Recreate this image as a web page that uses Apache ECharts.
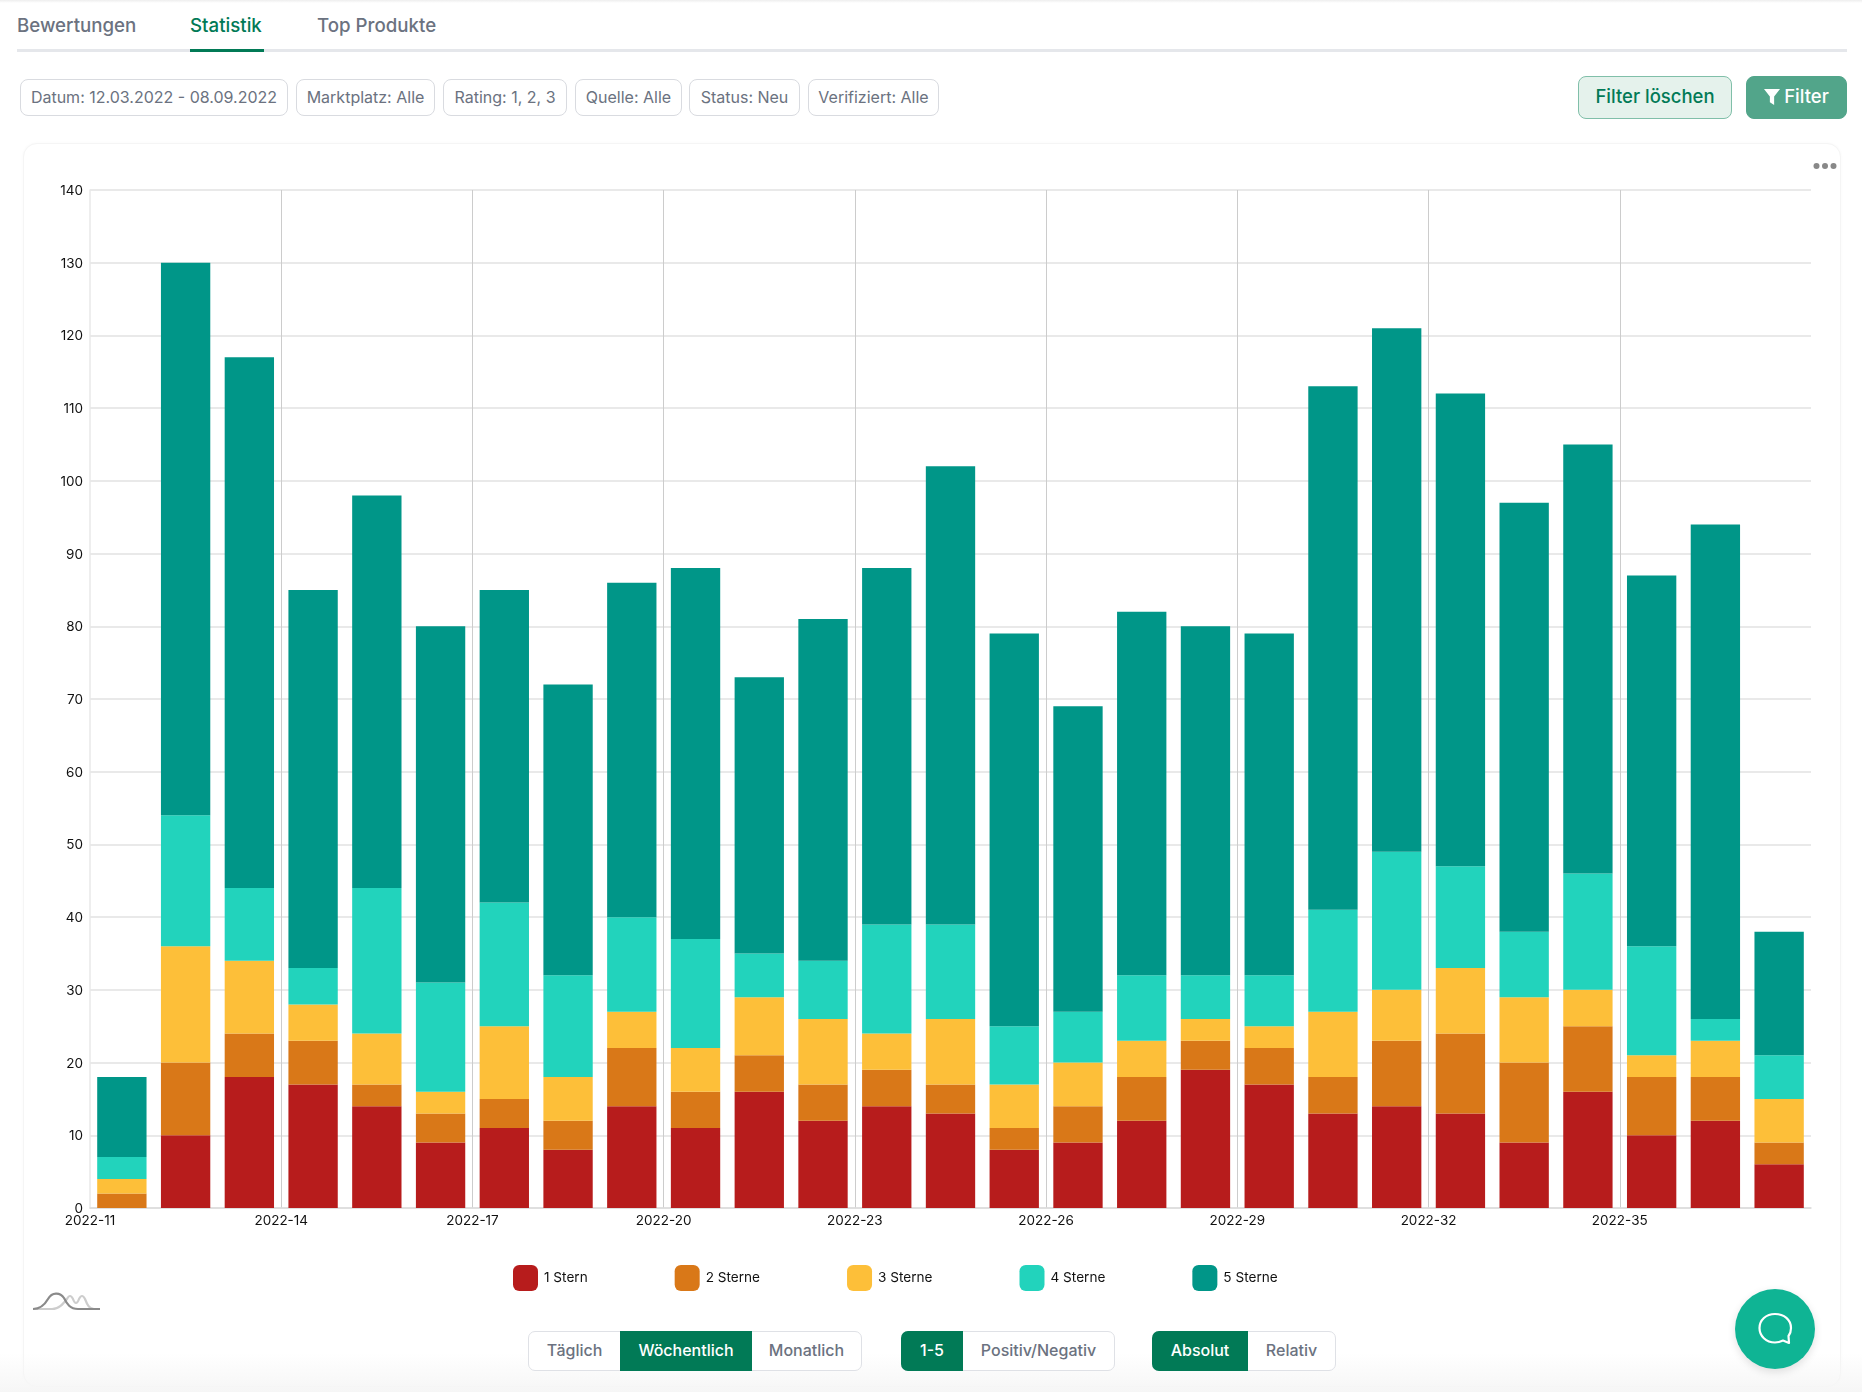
<!DOCTYPE html>
<html lang="de">
<head>
<meta charset="utf-8">
<title>Statistik</title>
<script src="https://cdn.jsdelivr.net/npm/echarts@6/dist/echarts.min.js"></script>
<style>
    html, body { margin: 0; padding: 0; width: 1862px; height: 1392px; overflow: hidden; background: #fff; font-family: Inter, sans-serif; }
    body { position: relative; }
    .abs { position: absolute; box-sizing: border-box; }
    #top-shadow { left: 0; top: 0; width: 1862px; height: 3px; background: linear-gradient(#eee, #fff); }
    #bottom-fade { left: 0; top: 1353px; width: 1862px; height: 39px; background: linear-gradient(rgba(246,246,246,0), #f6f6f6); }
    #tab-line { left: 17px; top: 49px; width: 1830px; height: 3px; background: #e5e7eb; }
    #tab-active { left: 190px; top: 49px; width: 74px; height: 3px; background: #017a56; }
    .tab { top: 14px; font-size: 18.7px; font-weight: 500; line-height: 24px; color: #6b7280; white-space: nowrap; }
    .tab.on { color: #017a56; }
    .chip { top: 79px; height: 37px; border: 1px solid #d9dbe0; border-radius: 8px; font-size: 16px; line-height: 35px; text-align: center; color: #6b7280; white-space: nowrap; }
    .btn { top: 76px; height: 43px; border-radius: 8px; font-size: 18.5px; font-weight: 500; line-height: 39px; text-align: center; white-space: nowrap; }
    #btn-clear { left: 1578px; width: 154px; background: #e5f2ec; border: 1px solid #80bfa9; color: #017a56; }
    #btn-filter { left: 1746px; width: 101px; background: #52a58a; border: 1px solid #52a58a; color: #fff; }
    #btn-filter svg { vertical-align: -2px; margin-right: 4px; }
    #card { left: 23px; top: 143px; width: 1818px; height: 1244px; background: #fff; border: 1px solid #f5f5f5; border-radius: 14px; box-shadow: 0 0 3px rgba(0,0,0,0.03); }
    #chart { left: 23px; top: 143px; width: 1818px; height: 1180px; }
    .group { top: 1331px; height: 40px; border: 1px solid #dfe1e6; border-radius: 7px; background: #fff; display: flex; }
    .group div { font-size: 16px; font-weight: 500; line-height: 36px; text-align: center; color: #6b7280; white-space: nowrap; }
    .group div.on { background: #017a56; color: #fff; margin: -1px 0; height: 40px; line-height: 38px; }
    .group div.first { margin-left: -1px; border-radius: 7px 0 0 7px; }
    #chat { left: 1735px; top: 1289px; width: 80px; height: 80px; border-radius: 50%; background: #0fb494; box-shadow: 0 3px 8px rgba(0,0,0,0.12); }
</style>
</head>
<body>
<div class="abs" id="top-shadow"></div>

<div class="abs tab" style="left:17px">Bewertungen</div>
<div class="abs tab on" style="left:190px">Statistik</div>
<div class="abs tab" style="left:317px">Top Produkte</div>
<div class="abs" id="tab-line"></div>
<div class="abs" id="tab-active"></div>

<div class="abs chip" style="left:20px;width:268px">Datum: 12.03.2022 - 08.09.2022</div>
<div class="abs chip" style="left:296px;width:139px">Marktplatz: Alle</div>
<div class="abs chip" style="left:443px;width:124px">Rating: 1, 2, 3</div>
<div class="abs chip" style="left:575px;width:107px">Quelle: Alle</div>
<div class="abs chip" style="left:689px;width:111px">Status: Neu</div>
<div class="abs chip" style="left:808px;width:131px">Verifiziert: Alle</div>

<div class="abs btn" id="btn-clear">Filter löschen</div>
<div class="abs btn" id="btn-filter"><svg width="16" height="16" viewBox="0 0 15 15"><path d="M0 0H15L9.500 7V15L5.500 12.500V7Z" fill="#fff"/></svg>Filter</div>

<div class="abs" id="card"></div>
<div class="abs" id="chart"></div>
<div class="abs" id="bottom-fade"></div>

<svg class="abs" style="left:1812px;top:160px" width="26" height="12" viewBox="0 0 26 12">
    <circle cx="4.5" cy="6" r="3" fill="#888"/><circle cx="13" cy="6" r="3" fill="#888"/><circle cx="21.5" cy="6" r="3" fill="#888"/>
</svg>

<svg class="abs" style="left:32px;top:1290px" width="70" height="24" viewBox="0 0 70 24">
    <path d="M1 19L20 19C27 19 31 14 35 9C37 5 39 5 41 9C42 12 43 13 44 13C45 13 46 12 47 9C49 5 51 5 53 9C55 14 57 19 62 19L68 19" fill="none" stroke="#cdcdcd" stroke-width="2.200"/>
    <path d="M1 19C8 19 12 16 16 9C20 2 28 2 32 8C35 14 38 19 46 19L68 19" fill="none" stroke="#8a8a8a" stroke-width="2.200"/>
</svg>

<div class="abs group" style="left:528px;width:334px">
    <div style="width:91px">Täglich</div><div class="on" style="width:132px">Wöchentlich</div><div style="width:109px">Monatlich</div>
</div>
<div class="abs group" style="left:901px;width:214px">
    <div class="on first" style="width:62px">1-5</div><div style="width:151px">Positiv/Negativ</div>
</div>
<div class="abs group" style="left:1152px;width:184px">
    <div class="on first" style="width:96px">Absolut</div><div style="width:87px">Relativ</div>
</div>

<div class="abs" id="chat">
    <svg width="80" height="80" viewBox="0 0 80 80">
        <path d="M40 25C49 25 56 30.500 56 39C56 43 55 45 53.500 47L54 54L48 51.500C45 53 43 53.500 40 53.500C31 53.500 24.500 47 24.500 39C24.500 31 31 25 40 25Z" fill="none" stroke="#fff" stroke-width="2.200" stroke-linejoin="round"/>
    </svg>
</div>

<script>
    // kalenderwochen
    var weeks = ["2022-11", "2022-12", "2022-13", "2022-14", "2022-15", "2022-16", "2022-17", "2022-18", "2022-19",
        "2022-20", "2022-21", "2022-22", "2022-23", "2022-24", "2022-25", "2022-26", "2022-27", "2022-28",
        "2022-29", "2022-30", "2022-31", "2022-32", "2022-33", "2022-34", "2022-35", "2022-36", "2022-37"];
    var seriesNames = ["1 Stern", "2 Sterne", "3 Sterne", "4 Sterne", "5 Sterne"];
    var seriesColors = ["#b71c1c", "#d97818", "#fdbf39", "#22d3bc", "#009688"];

    var stars1 = [0, 10, 18, 17, 14, 9, 11, 8, 14, 11, 16, 12, 14, 13, 8, 9, 12, 19, 17, 13, 14, 13, 9, 16, 10, 12, 6];
    var stars2 = [2, 10, 6, 6, 3, 4, 4, 4, 8, 5, 5, 5, 5, 4, 3, 5, 6, 4, 5, 5, 9, 11, 11, 9, 8, 6, 3];
    var stars3 = [2, 16, 10, 5, 7, 3, 10, 6, 5, 6, 8, 9, 5, 9, 6, 6, 5, 3, 3, 9, 7, 9, 9, 5, 3, 5, 6];
    var stars4 = [3, 18, 10, 5, 20, 15, 17, 14, 13, 15, 6, 8, 15, 13, 8, 7, 9, 6, 7, 14, 19, 14, 9, 16, 15, 3, 6];
    var stars5 = [11, 76, 73, 52, 54, 49, 43, 40, 46, 51, 38, 47, 49, 63, 54, 42, 50, 48, 47, 72, 72, 65, 59, 59, 51, 68, 17];
    var seriesValues = [stars1, stars2, stars3, stars4, stars5];

    var chart = echarts.init(document.getElementById("chart"));

    var series = seriesNames.map(function(name, i) {
        return {
            name: name,
            type: "bar",
            stack: "total",
            xAxisIndex: 0,
            yAxisIndex: 0,
            barCategoryGap: "22.6%",
            itemStyle: { color: seriesColors[i] },
            data: seriesValues[i]
        };
    });

    chart.setOption({
        animation: false,
        textStyle: { fontFamily: "Inter" },
        legend: {
            left: 490,
            top: 1122,
            padding: 0,
            itemWidth: 25,
            itemHeight: 26,
            itemGap: 87,
            icon: "roundRect",
            textStyle: { fontSize: 13.6, color: "#111", padding: [0, 0, 0, 1] },
            data: seriesNames
        },
        grid: { left: 67, top: 47, width: 1721, height: 1018 },
        xAxis: [{
            // traegt die balken, ohne eigene beschriftung
            type: "category",
            data: weeks,
            axisLine: { show: false },
            axisTick: { show: false },
            axisLabel: { show: false },
            splitLine: { show: false }
        }, {
            // beschriftung und raster sitzen auf den bandgrenzen
            type: "value",
            position: "bottom",
            min: 0,
            max: weeks.length,
            interval: 3,
            axisLine: { show: true, lineStyle: { color: "#dcdcdc", width: 1.5 } },
            axisTick: { show: false },
            axisLabel: {
                fontSize: 13.5,
                color: "#111",
                margin: 6,
                showMaxLabel: false,
                formatter: function(val) {
                    return weeks[val] || "";
                }
            },
            splitLine: { show: true, showMinLine: false, showMaxLine: false, lineStyle: { color: "#cccccc", width: 1 } }
        }],
        yAxis: {
            type: "value",
            min: 0,
            max: 140,
            interval: 10,
            axisLine: { show: true, lineStyle: { color: "#e8e8e8", width: 1.5 } },
            axisTick: { show: false },
            axisLabel: { fontSize: 13.5, color: "#111", margin: 7, verticalAlign: "top", padding: [-6, 0, 0, 0] },
            splitLine: { lineStyle: { color: "#e2e2e2", width: 1.5 } }
        },
        series: series
    });
</script>
</body>
</html>
